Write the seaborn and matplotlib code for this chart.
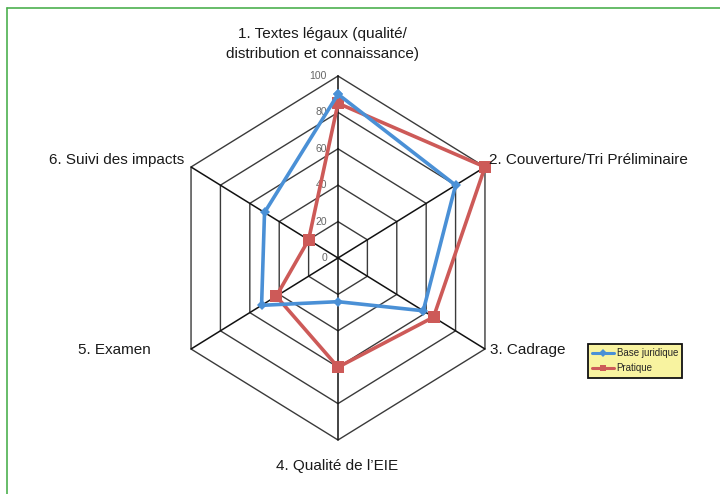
import numpy as np
import matplotlib.pyplot as plt
import pandas as pd
import seaborn as sns
from matplotlib.lines import Line2D

sns.set_style("white")
plt.rcParams['font.family'] = ['Liberation Sans', 'DejaVu Sans']

#-------------------data------------------------------
axes_labels = ["1. Textes légaux (qualité/\ndistribution et connaissance)",
               "2. Couverture/Tri Préliminaire",
               "3. Cadrage",
               "4. Qualité de l’EIE",
               "5. Examen",
               "6. Suivi des impacts"]
base_juridique = [90, 80, 58, 24, 52, 50]
pratique = [85, 100, 65, 60, 42, 20]
ring_levels = [0, 20, 40, 60, 80, 100]

#-------------------radar -> cartesian------------------------------
n = len(axes_labels)
theta = np.arange(n) * 2 * np.pi / n

def to_xy(vals):
    v = np.array(list(vals) + [vals[0]], dtype=float)
    t = np.append(theta, theta[0])
    return v * np.sin(t), v * np.cos(t)

W, H = 720, 494
fig = plt.figure(figsize=(W / 100, H / 100), dpi=100)
# center at (338,258)px, 1.697 px/unit horizontally, 1.82 px/unit vertically
cx, cy, sx, sy = 338, 258, 1.697, 1.82
xl, yl = 120, 110
ax = fig.add_axes([(cx - xl * sx) / W, (H - cy - yl * sy) / H, 2 * xl * sx / W, 2 * yl * sy / H])
ax.set_xlim(-xl, xl)
ax.set_ylim(-yl, yl)
ax.axis('off')

# grid hexagons
for lev in ring_levels[1:]:
    gx, gy = to_xy([lev] * n)
    ax.plot(gx, gy, color='#3a3a3a', lw=1.0, zorder=1)
# spokes
for t in theta:
    ax.plot([0, 100 * np.sin(t)], [0, 100 * np.cos(t)], color='#111111', lw=1.1, zorder=1)
# tick labels
for lev in ring_levels:
    ax.text(-6.5, lev, str(lev), ha='right', va='center', fontsize=7.5, color='#666666', zorder=2)

# series
bx, by = to_xy(base_juridique)
px_, py_ = to_xy(pratique)
df_b = pd.DataFrame({'x': bx, 'y': by})
df_p = pd.DataFrame({'x': px_, 'y': py_})
sns.lineplot(data=df_p, x='x', y='y', sort=False, estimator=None, ax=ax, color='#cd5a58',
             lw=2.6, marker='s', markersize=8, markeredgewidth=0, zorder=3)
sns.lineplot(data=df_b, x='x', y='y', sort=False, estimator=None, ax=ax, color='#4a90d6',
             lw=2.6, marker='D', markersize=5, markeredgewidth=0, zorder=4)

# axis labels (pixel positions)
def ftext(x, y, s, **kw):
    fig.text(x / W, 1 - y / H, s, fontsize=11, color='#1a1a1a', **kw)

ftext(322, 44, axes_labels[0], ha='center', va='center', linespacing=1.5)
ftext(489, 160, axes_labels[1], ha='left', va='center')
ftext(490, 350, axes_labels[2], ha='left', va='center')
ftext(337, 466, axes_labels[3], ha='center', va='center')
ftext(151, 350, axes_labels[4], ha='right', va='center')
ftext(184, 160, axes_labels[5], ha='right', va='center')

# legend
handles = [Line2D([], [], color='#4a90d6', lw=2.2, marker='D', markersize=4, markeredgewidth=0),
           Line2D([], [], color='#cd5a58', lw=2.2, marker='s', markersize=5, markeredgewidth=0)]
leg = fig.legend(handles, ['Base juridique', 'Pratique'], loc='upper left',
                 bbox_to_anchor=(588 / W, 1 - 344 / H), fontsize=7, frameon=True, fancybox=False,
                 handlelength=2.2, handletextpad=0.3, borderpad=0.45, labelspacing=0.5,
                 borderaxespad=0)
leg.get_frame().set_facecolor('#f8f3a0')
leg.get_frame().set_edgecolor('#111111')
leg.get_frame().set_linewidth(1.3)
leg.get_frame().set_alpha(1)

# green frame
fig.add_artist(Line2D([7 / W, 1], [1 - 8 / H, 1 - 8 / H], transform=fig.transFigure, color='#4db04f', lw=1.2))
fig.add_artist(Line2D([7 / W, 7 / W], [0, 1 - 8 / H], transform=fig.transFigure, color='#4db04f', lw=1.2))

fig.savefig("out.png", dpi=100)
